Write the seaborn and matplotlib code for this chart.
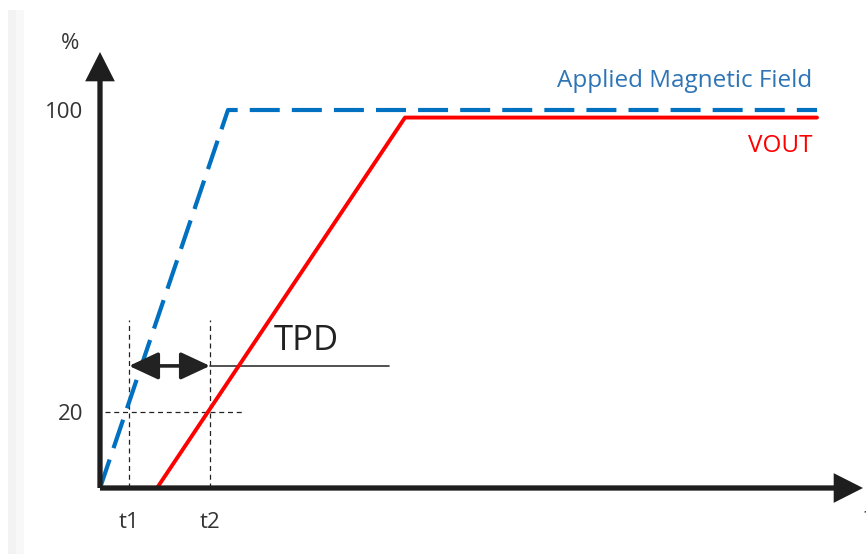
import matplotlib
matplotlib.use("Agg")
import matplotlib.pyplot as plt
import seaborn as sns
import numpy as np
import pandas as pd
from matplotlib.patches import Rectangle

# ---- data (schematic, time in arbitrary units, level in %) ----
field_t = [0.0, 12.8, 71.7]
field_v = [0.0, 100.0, 100.0]
vout_t = [5.7, 30.5, 71.7]
vout_v = [0.0, 98.0, 98.0]
threshold = 20
t1, t2 = 2.9, 11.0
ytick_vals = [20, 100]
ytick_labels = ["20", "100"]
xtick_labels = ["t1", "t2"]
series_names = ["Applied Magnetic Field", "VOUT"]

sns.set_theme(style="white")
plt.rcParams["font.family"] = ["Open Sans", "DejaVu Sans"]

W, H = 866, 554
fig = plt.figure(figsize=(W / 100, H / 100), dpi=100)
fig.patch.set_facecolor("white")
fig.patches.append(Rectangle((8 / W, 0), 8 / W, (H - 10) / H, transform=fig.transFigure,
                             facecolor="#f3f3f3", edgecolor="none", zorder=0))
fig.patches.append(Rectangle((16 / W, 0), 8 / W, (H - 10) / H, transform=fig.transFigure,
                             facecolor="#f8f8f8", edgecolor="none", zorder=0))

ox, oy, tipx, tipy = 100, 488, 863, 52
ax = fig.add_axes([ox / W, (H - oy) / H, (tipx - ox) / W, (oy - tipy) / H])
ax.set_facecolor("none")
ppu = 3.78  # pixels per %
ax.set_xlim(0, (tipx - ox) / 10)
ax.set_ylim(0, (oy - tipy) / ppu)
for s in ax.spines.values():
    s.set_visible(False)

df_f = pd.DataFrame({"t": field_t, "v": field_v})
df_o = pd.DataFrame({"t": vout_t, "v": vout_v})
sns.lineplot(data=df_f, x="t", y="v", ax=ax, color="#0070C0", lw=3.0, sort=False,
             estimator=None, zorder=4)
ax.lines[-1].set_dashes((7.2, 2.9))
ax.lines[-1].set_dash_capstyle("butt")
sns.lineplot(data=df_o, x="t", y="v", ax=ax, color="#FF0000", lw=2.8, sort=False,
             estimator=None, zorder=3)
ax.set_xlabel("")
ax.set_ylabel("")

# axes arrows
axcol = "#1e1e1e"
arr = dict(arrowstyle="-|>,head_length=0.75,head_width=0.38", lw=3.8, color=axcol,
           mutation_scale=20, shrinkA=0, shrinkB=0, joinstyle="miter", capstyle="butt")
ax.annotate("", xy=(1, 0), xytext=(0, 0), xycoords="axes fraction", arrowprops=arr,
            annotation_clip=False, zorder=6)
ax.annotate("", xy=(0, 1), xytext=(0, 0), xycoords="axes fraction", arrowprops=arr,
            annotation_clip=False, zorder=6)

# guide lines
ax.plot([t1, t1], [0, 44.4], color="#222", lw=0.9, ls=(0, (4, 3)), zorder=2)
ax.plot([t2, t2], [0, 44.4], color="#222", lw=0.9, ls=(0, (4, 3)), zorder=2)
ax.plot([0.5, 14.4], [threshold, threshold], color="#222", lw=0.9, ls=(0, (4, 3)), zorder=2)

# TPD arrow
arrow_y = 32.3
ax.annotate("", xy=(t2, arrow_y), xytext=(t1, arrow_y),
            arrowprops=dict(arrowstyle="<|-|>,head_length=0.9,head_width=0.42", lw=2.6,
                            color="#222", mutation_scale=20, shrinkA=0, shrinkB=0), zorder=5)
ax.plot([t2, 28.9], [arrow_y, arrow_y], color="#333", lw=1.2, zorder=2)
ax.text(20.6, 38.8, "TPD", fontsize=25, color="#222", ha="center", va="center")

# ticks
ax.set_yticks(ytick_vals)
ax.set_yticklabels(ytick_labels)
ax.set_xticks([t1, t2])
ax.set_xticklabels(xtick_labels)
ax.tick_params(axis="both", length=0, labelsize=16, labelcolor="#333")
ax.tick_params(axis="y", pad=12)
ax.tick_params(axis="x", pad=17)

ax.text(-3.0, 117.5, "%", fontsize=16, color="#333", ha="center", va="center", clip_on=False)
ax.text(76.4, -7.9, "t", fontsize=16, color="#333", ha="left", va="center", clip_on=False)

ax.text(71.2, 107.6, series_names[0], fontsize=17.5, color="#2E75B6", ha="right", va="center")
ax.text(71.2, 90.5, series_names[1], fontsize=17.5, color="#FF0000", ha="right", va="center")

fig.savefig("out.png", dpi=100)
